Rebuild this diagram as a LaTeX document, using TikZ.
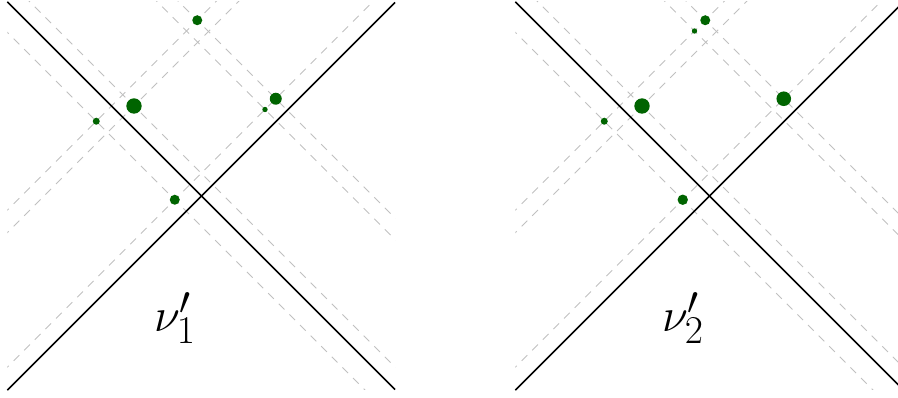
\documentclass[tikz,border=0pt]{standalone}
\definecolor{dkgreen}{RGB}{0,100,0}
\definecolor{guidegray}{RGB}{192,192,192}
\begin{document}
\begin{tikzpicture}[x=1pt,y=-1pt,
  guide/.style={draw=guidegray, line width=1pt, dash pattern=on 8pt off 7pt},
  cone/.style={draw=black, line width=1.5pt},
  dot/.style={circle, fill=dkgreen, inner sep=0pt, minimum size=#1},
  lab/.style={font=\Huge, scale=1.9, inner sep=0pt}]
\useasboundingbox (0,0) rectangle (898,398);
% ---------- panel 1 ----------
\begin{scope}
  \begin{scope}
    \clip (7.3,1.7) rectangle (395.2,390);
    \foreach \u in {-25,28,155.5,177}
      \draw[guide] ({-50},{-50-(\u)}) -- ({500},{500-(\u)});
    \foreach \v in {217.5,240,374.5}
      \draw[guide] ({-50},{(\v)+50}) -- ({500},{(\v)-500});
  \end{scope}
  \draw[cone] (7.3,1.8) -- (395,389.5);
  \draw[cone] (7.3,390.2) -- (395,2.5);
  \node[dot=10pt]  (p1a) at (197.25,20.25) {};
  \node[dot=15.4pt] (p1b) at (134,106) {};
  \node[dot=7pt]   (p1c) at (96.25,121.25) {};
  \node[dot=12pt]  (p1d) at (275.75,98.75) {};
  \node[dot=5.4pt] (p1e) at (265,109.5) {};
  \node[dot=10pt]  (p1f) at (174.75,199.75) {};
  \node[lab] (lab1) at (175,318) {$\nu'_1$};
\end{scope}
% ---------- panel 2 ----------
\begin{scope}[shift={(508,0)}]
  \begin{scope}
    \clip (7.3,1.7) rectangle (395.2,390);
    \foreach \u in {-25,28,155.5,177}
      \draw[guide] ({-50},{-50-(\u)}) -- ({500},{500-(\u)});
    \foreach \v in {217.5,240,374.5}
      \draw[guide] ({-50},{(\v)+50}) -- ({500},{(\v)-500});
  \end{scope}
  \draw[cone] (7.3,1.8) -- (395,389.5);
  \draw[cone] (7.3,390.2) -- (395,2.5);
  \node[dot=10pt]  (p2a) at (197.25,20.25) {};
  \node[dot=5.4pt] (p2e) at (186.5,31) {};
  \node[dot=15.4pt] (p2b) at (134,106) {};
  \node[dot=7pt]   (p2c) at (96.25,121.25) {};
  \node[dot=14.6pt] (p2d) at (275.75,98.75) {};
  \node[dot=10.4pt] (p2f) at (174.75,199.75) {};
  \node[lab] (lab2) at (175,318) {$\nu'_2$};
\end{scope}
\end{tikzpicture}
\end{document}
